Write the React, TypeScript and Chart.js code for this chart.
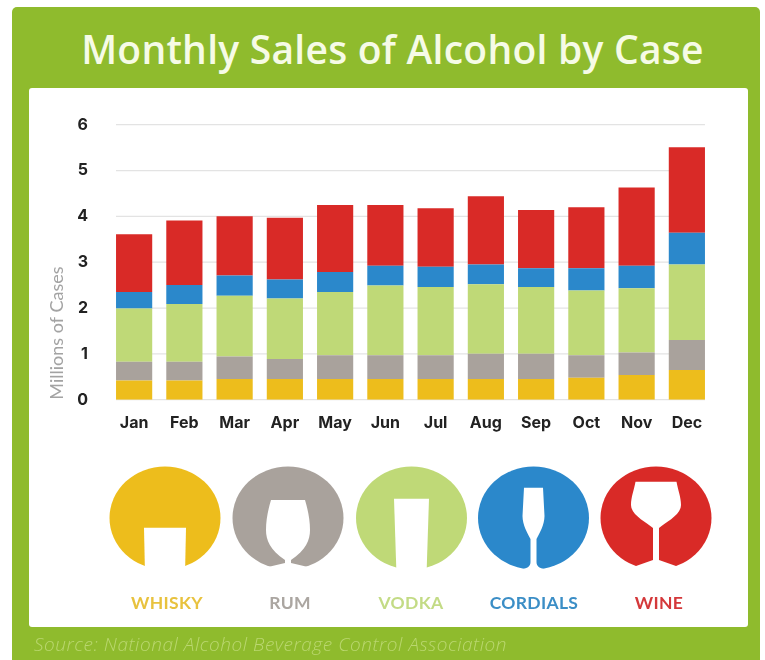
import React, { useEffect, useRef } from "react";
import { Chart, registerables } from "chart.js";

Chart.register(...registerables);

const months = ["Jan", "Feb", "Mar", "Apr", "May", "Jun", "Jul", "Aug", "Sep", "Oct", "Nov", "Dec"];
const whisky = [0.42, 0.42, 0.45, 0.45, 0.45, 0.45, 0.45, 0.45, 0.45, 0.48, 0.54, 0.65];
const rum = [0.41, 0.41, 0.495, 0.44, 0.52, 0.52, 0.52, 0.55, 0.55, 0.49, 0.49, 0.65];
const vodka = [1.16, 1.26, 1.325, 1.32, 1.38, 1.52, 1.49, 1.52, 1.46, 1.41, 1.4, 1.65];
const cordials = [0.36, 0.41, 0.44, 0.41, 0.435, 0.43, 0.44, 0.43, 0.41, 0.49, 0.49, 0.69];
const wine = [1.26, 1.41, 1.29, 1.35, 1.465, 1.33, 1.275, 1.49, 1.27, 1.33, 1.71, 1.87];

const titleText = "Monthly Sales of Alcohol by Case";
const sourceText = "Source: National Alcohol Beverage Control Association";
const yTitle = "Millions of Cases";

const series = [
  { name: "WHISKY", values: whisky, color: "#EDBD1C", text: "#E8C23E", cx: 165, lx: 167 },
  { name: "RUM", values: rum, color: "#A9A29C", text: "#ABA6A1", cx: 288, lx: 290 },
  { name: "VODKA", values: vodka, color: "#BFD977", text: "#C3DB85", cx: 411.5, lx: 411 },
  { name: "CORDIALS", values: cordials, color: "#2B88CB", text: "#3B8EC6", cx: 533.5, lx: 534 },
  { name: "WINE", values: wine, color: "#D92A27", text: "#D4383A", cx: 656, lx: 659 },
];

// Glass silhouettes: x is relative to the medallion centre, y is page-relative.
const glasses: Record<string, string> = {
  WHISKY: "M-21 527.7 L21 527.7 L20 575 L-20 575 Z",
  RUM: "M-17 500 L17 500 C20 510 22 520 22 530 C22 540 18 550 3 560 L3 563 L20 567 L20 575 L-20 575 L-20 567 L-3 563 L-3 560 C-18 550 -22 540 -22 530 C-22 520 -20 510 -17 500 Z",
  VODKA: "M-17.5 498.7 L17.5 498.7 L15 575 L-15 575 Z",
  CORDIALS: "M-9.5 487.7 L9.5 487.7 L11 516 C11 525 6 533 3 539 L3 562 C3 566 6 568 10 569 L10 575 L-10 575 L-10 569 C-6 568 -3 566 -3 562 L-3 539 C-6 533 -11 525 -11 516 Z",
  WINE: "M-20.5 481.7 L20.5 481.7 C22 490 25 497 25 505 C25 515 10 522 3 528 L3 560 L20 566 L20 575 L-20 575 L-20 566 L-3 560 L-3 528 C-10 522 -25 515 -25 505 C-25 497 -22 490 -20.5 481.7 Z",
};

const barGrid = {
  id: "barGrid",
  beforeDatasetsDraw(chart: any) {
    const bars = chart.getDatasetMeta(0).data;
    const first = bars[0];
    const last = bars[bars.length - 1];
    const left = first.x - first.width / 2;
    const right = last.x + last.width / 2;
    const y = chart.scales.y;
    const ctx = chart.ctx;
    ctx.save();
    ctx.strokeStyle = "#E3E3E3";
    ctx.lineWidth = 1.2;
    y.ticks.forEach((_: any, i: number) => {
      const py = y.getPixelForTick(i);
      ctx.beginPath();
      ctx.moveTo(left, py);
      ctx.lineTo(right, py);
      ctx.stroke();
    });
    ctx.restore();
  },
};

export default function App() {
  const ref = useRef<HTMLCanvasElement>(null);
  useEffect(() => {
    const chart = new Chart(ref.current!, {
      type: "bar",
      plugins: [barGrid],
      data: {
        labels: months,
        datasets: series.map((s) => ({
          label: s.name,
          data: s.values,
          backgroundColor: s.color,
          borderWidth: 0,
          barPercentage: 0.72,
          categoryPercentage: 1,
        })),
      },
      options: {
        animation: false,
        responsive: false,
        layout: { padding: { top: 36.7, right: 39, left: 17, bottom: 0 } },
        plugins: { legend: { display: false }, tooltip: { enabled: false } },
        scales: {
          x: {
            stacked: true,
            grid: { display: false },
            border: { display: false },
            ticks: {
              color: "#222222",
              font: { family: "Inter", size: 16, weight: "700" },
              padding: 6,
              maxRotation: 0,
              autoSkip: false,
            },
            afterFit: (s: any) => { s.height = 40.3; },
          },
          y: {
            stacked: true,
            min: 0,
            max: 6,
            grid: { display: false },
            border: { display: false },
            ticks: {
              stepSize: 1,
              color: "#222222",
              padding: 13,
              font: { family: "Inter", size: 16, weight: "700" },
            },
            title: {
              display: true,
              text: yTitle,
              align: "start",
              color: "#A3A3A3",
              font: { family: "Lato", size: 18, weight: "400" },
              padding: 0,
            },
            afterFit: (s: any) => { s.width = 63; },
          },
        },
      },
    });
    return () => chart.destroy();
  }, []);

  return (
    <div style={{ position: "absolute", left: 0, top: 0, width: 765, height: 660, overflow: "hidden", background: "#fff" }}>
      <div style={{ position: "absolute", left: 12, top: 7, width: 748, height: 653, background: "#8FBB2D", borderRadius: "5px 5px 0 0" }} />
      <div style={{ position: "absolute", left: 29, top: 88, width: 719, height: 539, background: "#fff", borderRadius: 3 }} />
      <div style={{ position: "absolute", left: 0, width: 785, top: 24, textAlign: "center", fontFamily: "Open Sans", fontWeight: 600, fontSize: 39, letterSpacing: 0.25, lineHeight: "50px", color: "#F6FBE6", whiteSpace: "nowrap" }}>
        {titleText}
      </div>
      <canvas ref={ref} width={722} height={352} style={{ position: "absolute", left: 29, top: 88 }} />
      <svg width={765} height={660} style={{ position: "absolute", left: 0, top: 0 }}>
        {series.map((s) => (
          <g key={s.name}>
            <ellipse cx={s.cx} cy={518} rx={55.5} ry={51.5} fill={s.color} />
            <path d={glasses[s.name]} fill="#fff" transform={`translate(${s.cx} 0)`} />
          </g>
        ))}
      </svg>
      {series.map((s) => (
        <div key={s.name} style={{ position: "absolute", left: s.lx - 70, width: 140, top: 590, lineHeight: "26px", textAlign: "center", fontFamily: "Lato", fontWeight: 700, fontSize: 17.5, letterSpacing: 0.3, color: s.text }}>
          {s.name}
        </div>
      ))}
      <div style={{ position: "absolute", left: 34, top: 632, lineHeight: "24px", fontFamily: "Open Sans", fontStyle: "italic", fontWeight: 300, fontSize: 19, letterSpacing: 0.55, color: "#BAD76F", whiteSpace: "nowrap" }}>
        {sourceText}
      </div>
    </div>
  );
}
